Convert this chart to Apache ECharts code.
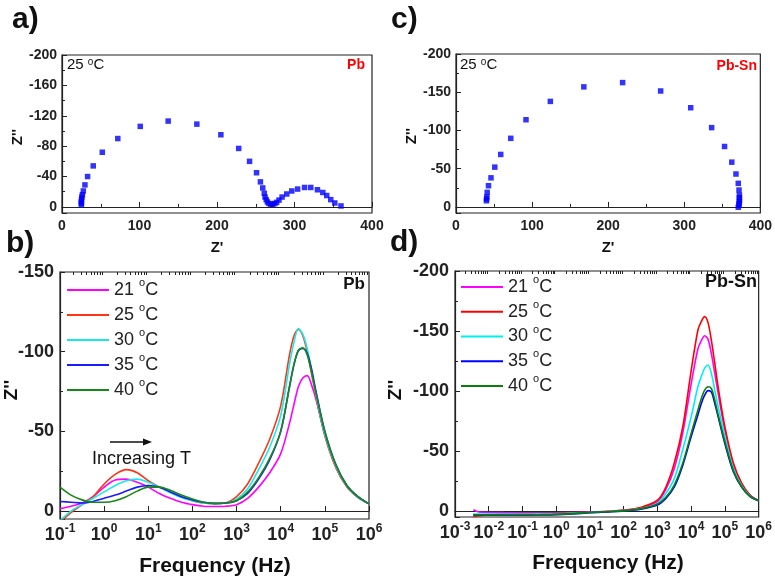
<!DOCTYPE html>
<html>
<head>
<meta charset="utf-8">
<script src="https://cdn.jsdelivr.net/npm/echarts@6/dist/echarts.min.js"></script>
<style>
    html, body { margin: 0; padding: 0; background: #fff; }
    #chart { width: 775px; height: 579px; }
</style>
</head>
<body>
<div id="chart"></div>
<script>
var temps = ['21 °C', '25 °C', '30 °C', '35 °C', '40 °C'];

// a) Pb, 25 oC, Nyquist
var pbRe = [25, 25, 25, 25.2, 25.6, 26.3, 27.5, 29.6, 33, 40.3, 52, 72, 101, 137, 174, 205, 228, 242,
    251, 256, 259, 261, 262, 263.5, 265, 267, 269.5, 272, 274.5, 277, 280, 284, 290, 296.5, 304, 313,
    321, 329.6, 336.5, 341.6, 346.8, 352, 360];
var pbIm = [-3, -5, -7, -10, -13, -16, -21, -29, -40, -54, -72, -90, -106, -113, -109, -95, -77, -60,
    -45, -33, -25, -18, -13, -9.5, -6.5, -4.5, -3.5, -3.6, -4.5, -6, -9, -13, -17, -21, -23.5, -25.6,
    -25.6, -22.6, -19, -15, -9.6, -5.2, -1.3];

// c) Pb-Sn, 25 oC, Nyquist
var pbSnRe = [40, 40.2, 40.5, 41, 42.7, 46, 51, 58.8, 72, 92, 124, 168, 219, 269, 308.5, 336, 353, 362.5,
    368, 371, 372, 372.5, 372.5, 372.5, 372.5, 372, 372, 371];
var pbSnIm = [-8, -10.5, -13, -19, -27.7, -38, -52, -68.6, -89.7, -114, -138, -157, -162.6, -151.6, -129.7, -103.7, -79, -58.5,
    -43, -30.8, -22, -15.4, -12, -9, -6.6, -4, -2, 0.5];

// b) Pb, Z'' vs frequency
var freqPb = [0.1, 0.178, 0.316, 0.562, 1, 1.78, 3.16, 5.62, 10, 17.8, 31.6, 56.2, 100, 178, 316, 562,
    1000, 1780, 3160, 5620, 10000, 15800, 20000, 25100, 31600, 39800, 50100, 63100,
    100000, 178000, 316000, 562000, 1000000];
var pb21 = [-1.5, -3, -5, -9, -15, -19.5, -20, -18, -15, -11, -8, -5.5, -4, -3, -2.8, -3,
    -4, -8, -15, -24, -36, -55, -67, -78, -83.5, -85, -79, -70, -48, -28, -15.5, -8.5, -4.5];
var pb25 = [7, 1, -4, -9, -17, -23, -26, -24, -19, -15, -12, -9, -6.5, -5, -4.5, -5,
    -9, -17, -30, -45, -66, -98, -110, -114, -110, -100, -86, -72, -47, -27, -15, -8.5, -4.5];
var pb30 = [6, 0, -4, -8, -12, -16, -19, -20, -18, -15, -11.5, -8.5, -6.5, -5, -4.5, -5,
    -7.5, -14, -26, -40, -60, -92, -106, -114.5, -111, -102, -88, -73, -48, -28, -15.5, -8.5, -4.5];
var pb35 = [-6, -5.5, -5, -6, -8, -10, -12.5, -15, -16, -15, -12, -9, -7, -5.5, -4.8, -5,
    -6.5, -11, -20, -32, -50, -78, -92, -100.5, -102, -99, -89, -75, -50, -29, -16, -9, -4.5];
var pb40 = [-15, -10, -7, -5.5, -5.5, -6.5, -9, -12.5, -15, -15, -13, -10, -7.5, -5.5, -4.8, -5,
    -6.5, -12, -21, -33, -50, -78, -92, -101, -102.5, -98, -87, -74, -50, -29, -16, -9, -4.5];

// d) Pb-Sn, Z'' vs frequency
var freqPbSn = [0.0035, 0.005, 0.01, 0.03, 0.1, 0.3, 1, 3, 10, 30, 100, 316,
    1000, 1780, 3160, 5620, 10000, 15800, 20000, 25100, 31600, 39800, 50100, 63100,
    100000, 178000, 316000, 562000, 1000000];
var pbSn21 = [-1, 0.8, 1.2, 1.4, 1.5, 1.5, 1.4, 1.2, 0.8, 0.3, -0.5, -2.5,
    -7.8, -18, -35.5, -65, -106, -135, -142, -146, -143, -131, -114.6, -98, -67, -38, -22.5, -13, -8.6];
var pbSn25 = [4.5, 4, 3, 2.5, 2.2, 2, 1.8, 1.5, 1, 0.5, -0.8, -3,
    -9, -20, -40, -70, -117, -150.6, -158, -162, -157, -142, -123, -103, -70, -40, -23, -13, -8.6];
var pbSn30 = [2.5, 2.5, 2.5, 2.5, 2.5, 2.4, 2.2, 1.8, 1.2, 0.6, -0.3, -2,
    -6.4, -14.7, -27, -51, -78.5, -103.5, -112, -119, -121.7, -114.6, -100.7, -87, -62, -35.5, -21, -12.5, -8.6];
var pbSn35 = [3.5, 3.5, 3.5, 3.5, 3.5, 3.3, 3, 2.4, 1.5, 0.8, 0, -1.5,
    -5, -10.5, -20, -38, -62, -80, -89.6, -96.5, -100.3, -99, -89.6, -78.5, -56, -32.7, -19.7, -12, -8.6];
var pbSn40 = [3.2, 3.2, 3.2, 3.3, 3.3, 3.1, 2.8, 2.2, 1.3, 0.6, -0.1, -1.8,
    -5.8, -11.4, -21.6, -39.7, -64.6, -84, -93.8, -100.7, -103.6, -102, -92.4, -80, -57.7, -33.6, -20, -12, -8.6];

var pbColors = ['#ff00ff', '#ff3414', '#16eaea', '#1a1aff', '#168a16'];
var pbSnColors = ['#ff00ff', '#ff0000', '#00f0f0', '#0000ff', '#0b7d0b'];

var FONT = 'Liberation Sans, Arial, sans-serif';

function extend(a, b) {
    for (var k in b) {
        a[k] = b[k];
    }
    return a;
}

function pairs(xs, ys) {
    var out = [];
    for (var i = 0; i < xs.length; i++) {
        out.push([xs[i], ys[i]]);
    }
    return out;
}

// minor ticks at 2..9 of each decade
function logMinor(lo, hi) {
    var vals = [];
    for (var e = lo; e < hi; e++) {
        for (var m = 2; m <= 9; m++) {
            vals.push(m * Math.pow(10, e));
        }
    }
    return vals;
}

function logLabel(v) {
    var e = Math.round(Math.log(v) / Math.LN10);
    return '10{sup|' + e + '}';
}

function stepLabel(step) {
    return function (v) {
        return v % step === 0 ? String(v) : '';
    };
}

function linAxisX(grid) {
    return {
        type: 'value', gridIndex: grid, min: 0, max: 400, interval: 100,
        axisLine: {show: true, lineStyle: {color: '#222', width: 1.2}},
        axisTick: {inside: true, length: 5, lineStyle: {color: '#222'}},
        minorTick: {show: true, splitNumber: 2, length: 3, lineStyle: {color: '#222'}},
        splitLine: {show: false},
        axisLabel: {margin: 6, fontFamily: FONT, fontWeight: 'bold', fontSize: 14, color: '#222'}
    };
}

function logAxisX(grid, min) {
    return {
        type: 'log', logBase: 10, gridIndex: grid, min: min, max: 1000000,
        axisLine: {show: true, lineStyle: {color: '#222', width: 1.2}},
        axisTick: {inside: true, length: 5, lineStyle: {color: '#222'}},
        splitLine: {show: false},
        axisLabel: {
            margin: 4, formatter: logLabel, fontFamily: FONT, fontWeight: 'bold', fontSize: 18,
            color: '#222', lineHeight: 24,
            rich: {sup: {fontFamily: FONT, fontWeight: 'bold', fontSize: 12, color: '#222', verticalAlign: 'top', lineHeight: 14}}
        }
    };
}

function minorAxisX(grid, min, lo) {
    return {
        type: 'log', logBase: 10, gridIndex: grid, min: min, max: 1000000,
        axisLine: {show: false},
        axisTick: {inside: true, length: 3, customValues: logMinor(lo, 6), lineStyle: {color: '#222'}},
        splitLine: {show: false},
        axisLabel: {show: false}
    };
}

function yAxisInv(grid, min, max, step, size) {
    return {
        type: 'value', gridIndex: grid, inverse: true, min: min, max: max, interval: step,
        axisLine: {show: true, lineStyle: {color: '#222', width: 1.2}},
        axisTick: {inside: true, length: 5, lineStyle: {color: '#222'}},
        minorTick: {show: true, splitNumber: 2, length: 3, lineStyle: {color: '#222'}},
        splitLine: {show: false},
        axisLabel: {margin: size > 15 ? 6 : 5, formatter: stepLabel(step), fontFamily: FONT, fontWeight: 'bold', fontSize: size, color: '#222'}
    };
}

function lineSeries(name, freq, vals, color, xi, yi) {
    return {
        name: name, type: 'line', xAxisIndex: xi, yAxisIndex: yi,
        data: pairs(freq, vals), symbol: 'none', smooth: 0.3, clip: true,
        lineStyle: {color: color, width: 1.6}, itemStyle: {color: color}
    };
}

function legendAt(left, top, rowH, names) {
    return {
        orient: 'vertical', left: left, top: top, itemGap: 0, itemWidth: 42, itemHeight: 2,
        icon: 'rect', padding: 0,
        data: names,
        formatter: function (name) {
            return name.trim().replace(' °C', ' {sup|o}C');
        },
        textStyle: {
            fontFamily: FONT, fontSize: 18, color: '#222', lineHeight: rowH,
            rich: {sup: {fontFamily: FONT, fontSize: 11, color: '#222', verticalAlign: 'top', lineHeight: 12}}
        }
    };
}

function txt(x, y, text, font, opts) {
    opts = opts || {};
    return {
        type: 'text', x: x, y: y, rotation: opts.rotation || 0,
        style: {
            text: text, x: 0, y: 0, font: font, fill: opts.fill || '#111',
            textAlign: opts.align || 'center', textVerticalAlign: 'middle',
            rich: {sup: {font: '10px ' + FONT, fill: '#111', verticalAlign: 'top', lineHeight: 10}}
        }
    };
}

function initChart() {
    var chart = echarts.init(document.getElementById('chart'), null, {renderer: 'canvas'});

    var series = [];
    series.push({
        type: 'scatter', xAxisIndex: 0, yAxisIndex: 0, data: pairs(pbRe, pbIm),
        symbol: 'rect', symbolSize: 5.5, itemStyle: {color: '#0000ff'}
    });
    series.push({
        type: 'scatter', xAxisIndex: 3, yAxisIndex: 2, data: pairs(pbSnRe, pbSnIm),
        symbol: 'rect', symbolSize: 5.5, itemStyle: {color: '#0000ff'}
    });

    var pbData = [pb21, pb25, pb30, pb35, pb40];
    var pbSnData = [pbSn21, pbSn25, pbSn30, pbSn35, pbSn40];
    var snNames = [];
    for (var i = 0; i < temps.length; i++) {
        series.push(lineSeries(temps[i], freqPb, pbData[i], pbColors[i], 1, 1));
        snNames.push(temps[i] + ' ');
        series.push(lineSeries(snNames[i], freqPbSn, pbSnData[i], pbSnColors[i], 4, 3));
    }

    var border = {show: true, borderColor: '#222', borderWidth: 1.2, backgroundColor: 'transparent'};

    var option = {
        animation: false,
        backgroundColor: '#fff',
        grid: [
            extend({left: 62, top: 55, width: 310, height: 158}, border),
            extend({left: 60, top: 272, width: 309, height: 247}, border),
            extend({left: 456, top: 54, width: 306, height: 159}, border),
            extend({left: 455, top: 271, width: 306, height: 246}, border)
        ],
        xAxis: [
            linAxisX(0),
            logAxisX(1, 0.1),
            minorAxisX(1, 0.1, -1),
            linAxisX(2),
            logAxisX(3, 0.001),
            minorAxisX(3, 0.001, -3)
        ],
        yAxis: [
            yAxisInv(0, -200, 8, 40, 14),
            yAxisInv(1, -150, 5, 50, 18),
            yAxisInv(2, -200, 8, 50, 14),
            yAxisInv(3, -200, 5, 50, 18)
        ],
        legend: [
            legendAt(67, 277.5, 25, temps),
            legendAt(461, 274.6, 24.75, snNames)
        ],
        series: series,
        graphic: [
            txt(12, 20, 'a)', 'bold 30px ' + FONT, {align: 'left'}),
            txt(6, 244, 'b)', 'bold 30px ' + FONT, {align: 'left'}),
            txt(391, 20, 'c)', 'bold 30px ' + FONT, {align: 'left'}),
            txt(390, 243, 'd)', 'bold 30px ' + FONT, {align: 'left'}),

            txt(67, 65, '25 {sup|o}C', '15px ' + FONT, {align: 'left'}),
            txt(365, 65, 'Pb', 'bold 14px ' + FONT, {align: 'right', fill: '#ff0000'}),
            txt(460, 65, '25 {sup|o}C', '15px ' + FONT, {align: 'left'}),
            txt(757, 66, 'Pb-Sn', 'bold 14px ' + FONT, {align: 'right', fill: '#ff0000'}),

            txt(365, 284, 'Pb', 'bold 17px ' + FONT, {align: 'right'}),
            txt(757, 282, 'Pb-Sn', 'bold 18px ' + FONT, {align: 'right'}),

            txt(92, 459, 'Increasing T', '18px ' + FONT, {align: 'left'}),
            {type: 'line', shape: {x1: 110, y1: 442, x2: 146, y2: 442}, style: {stroke: '#111', lineWidth: 1.5}},
            {type: 'polygon', shape: {points: [[143, 438.5], [152, 442], [143, 445.5]]}, style: {fill: '#111'}},

            txt(18, 137, "Z''", 'bold 15px ' + FONT, {rotation: Math.PI / 2}),
            txt(217, 248, "Z'", 'bold 15px ' + FONT),
            txt(412, 136, "Z''", 'bold 15px ' + FONT, {rotation: Math.PI / 2}),
            txt(608, 248, "Z'", 'bold 15px ' + FONT),

            txt(12, 390, "Z''", 'bold 19px ' + FONT, {rotation: Math.PI / 2}),
            txt(396, 390, "Z''", 'bold 19px ' + FONT, {rotation: Math.PI / 2}),
            txt(215, 566, 'Frequency (Hz)', 'bold 21px ' + FONT),
            txt(608, 563, 'Frequency (Hz)', 'bold 21px ' + FONT)
        ]
    };

    chart.setOption(option);
}

initChart();
</script>
</body>
</html>
